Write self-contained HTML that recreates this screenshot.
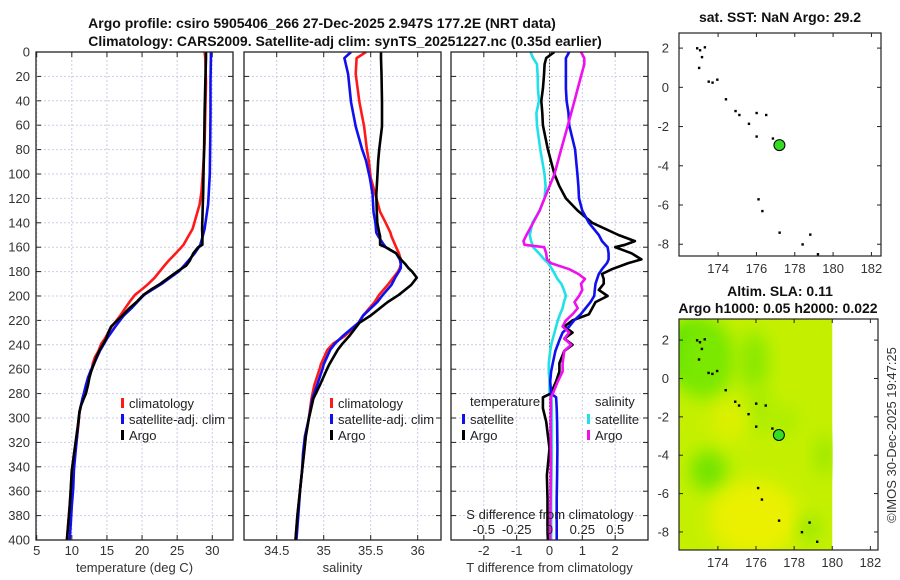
<!DOCTYPE html>
<html><head><meta charset="utf-8">
<style>
html,body{margin:0;padding:0;background:#fff;}
svg{display:block;font-family:"Liberation Sans","DejaVu Sans",sans-serif;}
.tk{font-size:13px;fill:#333;}
.ttl{font-size:14px;font-weight:bold;fill:#111;}
.lg{font-size:13px;fill:#222;}
</style></head>
<body>
<svg id="chart" width="900" height="580" viewBox="0 0 900 580" xmlns="http://www.w3.org/2000/svg">
<defs>
<filter id="blur" x="-50%" y="-50%" width="200%" height="200%"><feGaussianBlur stdDeviation="9"/></filter>
<clipPath id="clipField"><rect x="679" y="319" width="154" height="231"/></clipPath>
<clipPath id="cp1"><rect x="36" y="52" width="197" height="488"/></clipPath>
<clipPath id="cp2"><rect x="244" y="52" width="197" height="488"/></clipPath>
<clipPath id="cp3"><rect x="451" y="52" width="197" height="488"/></clipPath>
</defs>
<text class="ttl" x="322" y="28" text-anchor="middle">Argo profile: csiro 5905406_266 27-Dec-2025 2.947S 177.2E (NRT data)</text>
<text class="ttl" x="345" y="46" text-anchor="middle">Climatology: CARS2009. Satellite-adj clim: synTS_20251227.nc (0.35d earlier)</text>
<g id="g1"></g>
<g id="g2"></g>
<g id="g3"></g>
<g id="gm1"></g>
<g id="gm2"></g>
<text class="tk" x="0" y="0" transform="translate(896,435) rotate(-90)" text-anchor="middle">©IMOS 30-Dec-2025 19:47:25</text>
</svg>
<script>
// depths (dbar)
const depthT = [0,5,25,50,75,100,115,125,137,145,152,158,160,165,171,175,180,185,190,195,199,205,210,216,225,230,235,239,245,250,255,261,267,273,280,284,290,295,305,315,330,343,358,372,386,400];
const argoT  = [29.1,29.1,29.0,28.9,28.85,28.75,28.7,28.65,28.6,28.55,28.6,28.6,28.0,27.3,26.8,26.3,25.0,23.8,22.6,21.2,20.2,19.2,18.2,17.2,15.6,15.2,14.9,14.5,13.9,13.5,13.2,12.8,12.5,12.3,12.0,11.7,11.3,11.1,10.9,10.65,10.3,10.0,9.85,9.7,9.5,9.3];
const satT   = [29.8,29.8,29.75,29.75,29.7,29.65,29.5,29.4,29.1,28.9,28.6,28.3,28.1,27.5,26.6,26.0,25.2,24.0,22.8,21.4,20.3,19.3,18.5,17.4,16.2,15.6,15.0,14.6,14.0,13.6,13.2,12.7,12.3,12.0,11.7,11.5,11.3,11.1,10.9,10.75,10.5,10.3,10.2,10.0,9.85,9.7];
const climT  = [28.9,29.0,29.1,29.0,28.9,28.65,28.45,28.2,27.6,27.2,26.5,25.9,25.6,24.8,23.8,23.2,22.5,21.8,20.9,19.9,19.0,18.2,17.6,16.9,15.7,15.2,14.7,14.2,13.8,13.3,13.0,12.8,12.3,12.1,11.8,11.6,11.3,11.1,10.95,10.75,10.4,10.0,9.85,9.7,9.5,9.3];
const depthS = [0,5,18,41,61,80,89,103,117,131,140,148,151,158,160,165,170,174,177,180,185,188,191,199,205,216,222,233,239,244,256,259,273,284,301,315,329,343,358,380,400];
const argoS  = [35.61,35.61,35.615,35.62,35.62,35.59,35.58,35.57,35.56,35.565,35.57,35.59,35.6,35.6,35.66,35.77,35.82,35.87,35.9,35.94,35.99,35.96,35.93,35.8,35.68,35.5,35.38,35.27,35.2,35.15,35.06,35.04,34.96,34.89,34.84,34.81,34.79,34.77,34.75,34.72,34.7];
const satS   = [35.29,35.22,35.26,35.29,35.34,35.41,35.45,35.49,35.52,35.53,35.55,35.56,35.58,35.64,35.66,35.77,35.81,35.82,35.82,35.8,35.76,35.74,35.72,35.63,35.57,35.42,35.37,35.2,35.12,35.07,35.0,34.99,34.93,34.88,34.84,34.8,34.78,34.77,34.75,34.73,34.71];
const climS  = [35.45,35.35,35.34,35.38,35.43,35.46,35.48,35.5,35.55,35.6,35.66,35.71,35.72,35.76,35.77,35.8,35.82,35.82,35.81,35.79,35.74,35.71,35.68,35.59,35.54,35.42,35.37,35.22,35.1,35.04,34.97,34.96,34.9,34.87,34.84,34.81,34.79,34.77,34.75,34.72,34.7];
// differences from climatology
const depthD = [0,5,10,20,30,40,50,60,80,100,110,120,130,140,150,155,158,160,165,170,173,178,182,186,190,195,200,205,210,215,220,225,230,235,240,245,255,262,270,280,283,292,303,325,347,366,393,400];
const argoDT = [0.15,-0.1,-0.15,-0.17,-0.2,-0.25,-0.22,-0.2,-0.05,0.15,0.3,0.5,0.86,1.3,2.1,2.6,2.3,2.0,2.5,2.8,2.4,1.9,1.6,1.65,1.65,1.5,1.77,1.4,1.3,1.2,0.7,0.45,0.7,0.45,0.7,0.45,0.3,0.3,0.2,0.04,-0.2,-0.2,-0.1,0.0,-0.08,-0.06,-0.06,-0.05];
const satDT  = [0.6,0.5,0.5,0.5,0.5,0.52,0.58,0.6,0.78,0.85,0.88,0.9,1.0,1.2,1.5,1.6,1.7,1.77,1.8,1.8,1.75,1.6,1.5,1.45,1.4,1.38,1.36,1.25,1.1,0.95,0.75,0.6,0.4,0.32,0.25,0.18,0.1,0.05,0.02,0.05,0.2,0.22,0.23,0.24,0.23,0.22,0.22,0.22];
const satDS  = [-0.145,-0.125,-0.095,-0.09,-0.088,-0.08,-0.1,-0.095,-0.07,-0.038,-0.03,-0.038,-0.075,-0.13,-0.15,-0.14,-0.13,-0.125,-0.08,-0.04,-0.01,0.02,0.04,0.06,0.09,0.11,0.125,0.11,0.1,0.08,0.063,0.05,0.038,0.025,0.013,0.005,-0.005,-0.005,0,0,0.015,0.017,0.018,0.018,0.015,0.013,0.013,0.013];
const argoDS = [0.24,0.265,0.265,0.24,0.215,0.19,0.165,0.14,0.088,0.038,0,-0.038,-0.075,-0.125,-0.175,-0.198,-0.19,-0.04,-0.025,-0.02,0.01,0.15,0.22,0.27,0.24,0.25,0.225,0.19,0.215,0.175,0.125,0.1,0.15,0.113,0.165,0.113,0.1,0.1,0.063,0.025,0.01,0.01,0.008,0.01,0.01,0.008,0.005,0.005];
const depthTicks = [0,20,40,60,80,100,120,140,160,180,200,220,240,260,280,300,320,340,360,380,400];
const tTicks = [5,10,15,20,25,30];
const sTicks = [34.5,35,35.5,36];
const dTTicks = [-2,-1,0,1,2];
const dSTicks = [-0.5,-0.25,0,0.25,0.5];
const dSLabels = ['-0.5','-0.25','0','0.25','0.5'];
const lonTicks = [174,176,178,180,182];
const latTicks = [2,0,-2,-4,-6,-8];
const argoLon = 177.2, argoLat = -2.947;
const coastLon = [172.9,173.05,173.15,173.0,173.3,173.5,173.7,173.95,174.4,174.9,175.1,175.6,176.0,176.5,176.0,176.85,176.1,176.3,177.2,178.4,178.8,179.2];
const coastLat = [2.0,1.9,1.55,1.0,2.05,0.3,0.25,0.4,-0.6,-1.2,-1.4,-1.85,-1.3,-1.4,-2.5,-2.6,-5.7,-6.3,-7.4,-8.0,-7.5,-8.5];

const NS = 'http://www.w3.org/2000/svg';
function mk(parent, tag, attrs){const e=document.createElementNS(NS,tag);for(const k in attrs)e.setAttribute(k,attrs[k]);parent.appendChild(e);return e;}
const PT=52, PB=540;
const yD = d => PT + d/400*(PB-PT);
function lin(d0,d1,r0,r1){return v=>r0+(v-d0)/(d1-d0)*(r1-r0);}

function panel(g, x0, x1, xs, xticks, xlabels, showY, xtitle){
  const frame = mk(g,'rect',{x:x0,y:PT,width:x1-x0,height:PB-PT,fill:'#fff',stroke:'none'});
  
  
  depthTicks.forEach(d=>{
    const y=yD(d);
    if(d>0&&d<400){const gl=mk(g,'line',{x1:x0,x2:x1,y1:y,y2:y,stroke:'#c9cde6','stroke-width':1,'stroke-dasharray':'2,2'});
      
      }
    mk(g,'line',{x1:x0,x2:x0+5,y1:y,y2:y,stroke:'#222'});
    mk(g,'line',{x1:x1-5,x2:x1,y1:y,y2:y,stroke:'#222'});
    if(showY){const t=mk(g,'text',{x:x0-6,y:y+4.5,'text-anchor':'end',class:'tk'});t.textContent=d;
      
      }
  });
  xticks.forEach((v,i)=>{
    const x=xs(v);
    const gl=mk(g,'line',{x1:x,x2:x,y1:PT,y2:PB,stroke:'#c9cde6','stroke-width':1,'stroke-dasharray':'2,2'});
    
    
    mk(g,'line',{x1:x,x2:x,y1:PB-5,y2:PB,stroke:'#222'});
    mk(g,'line',{x1:x,x2:x,y1:PT,y2:PT+5,stroke:'#222'});
    const t=mk(g,'text',{x:x,y:PB+15,'text-anchor':'middle',class:'tk'});t.textContent=xlabels[i];
    
    
  });
  const tt=mk(g,'text',{x:(x0+x1)/2,y:PB+32,'text-anchor':'middle',class:'tk'});tt.textContent=xtitle;
  
  
}
function frameBox(g,x0,x1){const b=mk(g,'rect',{x:x0,y:PT,width:x1-x0,height:PB-PT,fill:'none',stroke:'#222','stroke-width':1.3});
  
  }
function series(g, depths, vals, xs, color, name, clip){
  const pts = vals.map((v,i)=>xs(v).toFixed(1)+','+yD(depths[i]).toFixed(1)).join(' ');
  const p=mk(g,'polyline',{points:pts,fill:'none',stroke:color,'stroke-width':2.6,'stroke-linejoin':'round','clip-path':'url(#'+clip+')'});
  
  
}
function legend(g,x,y,items){
  items.forEach((it,i)=>{
    const yy=y+i*16;
    mk(g,'rect',{x:x,y:yy-9,width:3,height:10,fill:it[1]});
    const t=mk(g,'text',{x:x+8,y:yy+1,class:'lg'});t.textContent=it[0];
    
    
  });
}

// Panel 1
const g1=document.getElementById('g1');
const xT=lin(5,32.95,36.7,233);
panel(g1,36,233,xT,tTicks,tTicks.map(String),true,'temperature (deg C)');
series(g1,depthT,climT,xT,'#ff1a1a','climatology-temperature-line','cp1');
series(g1,depthT,satT,xT,'#1010ee','satellite-temperature-line','cp1');
series(g1,depthT,argoT,xT,'#000','argo-temperature-line','cp1');
frameBox(g1,36,233);
legend(g1,121,407,[['climatology','#ff1a1a'],['satellite-adj. clim','#1010ee'],['Argo','#000']]);

// Panel 2
const g2=document.getElementById('g2');
const xS=lin(34.152,36.248,244,441);
panel(g2,244,441,xS,sTicks,['34.5','35','35.5','36'],false,'salinity');
series(g2,depthS,climS,xS,'#ff1a1a','climatology-salinity-line','cp2');
series(g2,depthS,satS,xS,'#1010ee','satellite-salinity-line','cp2');
series(g2,depthS,argoS,xS,'#000','argo-salinity-line','cp2');
frameBox(g2,244,441);
legend(g2,330,407,[['climatology','#ff1a1a'],['satellite-adj. clim','#1010ee'],['Argo','#000']]);
mk(g2,'rect',{x:233.5,y:395,width:10,height:50,fill:'#fff'});
mk(g2,'line',{x1:233,x2:233,y1:395,y2:445,stroke:'#222','stroke-width':1.3});

// Panel 3
const g3=document.getElementById('g3');
const xDT=lin(-3,3,451,648);
const xDS=v=>xDT(v*4);
panel(g3,451,648,xDT,dTTicks,dTTicks.map(String),false,'T difference from climatology');
const zl=mk(g3,'line',{x1:xDT(0),x2:xDT(0),y1:PT,y2:PB,stroke:'#555533','stroke-width':1,'stroke-dasharray':'1.5,2'});


series(g3,depthD,satDS,xDS,'#22e0e8','satellite-salinity-diff-line','cp3');
series(g3,depthD,argoDT,xDT,'#000','argo-temperature-diff-line','cp3');
series(g3,depthD,satDT,xDT,'#1010ee','satellite-temperature-diff-line','cp3');
series(g3,depthD,argoDS,xDS,'#ee10ee','argo-salinity-diff-line','cp3');
frameBox(g3,451,648);
const lt=mk(g3,'text',{x:470,y:406,class:'lg'});lt.textContent='temperature';


const ls=mk(g3,'text',{x:595,y:406,class:'lg'});ls.textContent='salinity';


legend(g3,462,423,[['satellite','#1010ee'],['Argo','#000']]);
legend(g3,587,423,[['satellite','#22e0e8'],['Argo','#ee10ee']]);
const st=mk(g3,'text',{x:550,y:519,'text-anchor':'middle',class:'lg'});st.textContent='S difference from climatology';


dSTicks.forEach((v,i)=>{
  const t=mk(g3,'text',{x:xDS(v),y:534,'text-anchor':'middle',class:'lg'});t.textContent=dSLabels[i];
  
  
});

// Maps
function mapPanel(g, x0,x1,y0,y1, lon0,lon1, lat0,lat1, field){
  const mx=lin(lon0,lon1,x0,x1), my=lin(lat0,lat1,y0,y1);
  if(field){
    const base=mk(g,'rect',{x:x0,y:y0,width:mx(180)-x0,height:y1-y0,fill:'#c4f000'});
    
    
    const fg=mk(g,'g',{'clip-path':'url(#clipField)'});
    const blobs=[[172.6,1.4,25,30,'#4ee000'],[173.3,1.0,30,40,'#7ae800'],[175.9,0.9,14,30,'#86e800'],[173.5,-4.8,18,20,'#70e400'],[176.2,-1.6,12,25,'#a6ec00'],[175.9,-7.3,45,38,'#eaf000'],[174.6,-2.2,18,22,'#dcf000'],[179.6,-4.0,10,20,'#9ae800'],[178.8,-7.8,10,12,'#8ee600'],[177.5,-2.2,12,14,'#a8ec00']];
    blobs.forEach(b=>{mk(fg,'ellipse',{cx:mx(b[0]),cy:my(b[1]),rx:b[2],ry:b[3],fill:b[4],filter:'url(#blur)'});});
  }
  lonTicks.forEach(v=>{const x=mx(v);
    mk(g,'line',{x1:x,x2:x,y1:y1-4,y2:y1,stroke:'#222'});mk(g,'line',{x1:x,x2:x,y1:y0,y2:y0+4,stroke:'#222'});
    const t=mk(g,'text',{x:x,y:y1+17,'text-anchor':'middle',class:'tk'});t.textContent=v;
    
    });
  latTicks.forEach(v=>{const y=my(v);
    mk(g,'line',{x1:x0,x2:x0+4,y1:y,y2:y,stroke:'#222'});mk(g,'line',{x1:x1-4,x2:x1,y1:y,y2:y,stroke:'#222'});
    const t=mk(g,'text',{x:x0-10,y:y+4.5,'text-anchor':'end',class:'tk'});t.textContent=v;
    
    });
  coastLon.forEach((lo,i)=>{const c=mk(g,'rect',{x:mx(lo)-1,y:my(coastLat[i])-1,width:2.4,height:2.4,fill:'#000'});
    
    });
  const m=mk(g,'circle',{cx:mx(argoLon),cy:my(argoLat),r:5.5,fill:'#33dd22',stroke:'#000','stroke-width':1});
  
  
  const b=mk(g,'rect',{x:x0,y:y0,width:x1-x0,height:y1-y0,fill:'none',stroke:'#222','stroke-width':1.2});
  
  
}
const gm1=document.getElementById('gm1');
mapPanel(gm1,679,881,33,256,171.96,182.5,2.77,-8.6,false);
const mt1=mk(gm1,'text',{x:780,y:22,'text-anchor':'middle',class:'ttl'});mt1.textContent='sat. SST: NaN Argo: 29.2';


const gm2=document.getElementById('gm2');
mapPanel(gm2,679,878,319,550,171.96,182.4,3.1,-8.94,true);
const mt2=mk(gm2,'text',{x:780,y:296,'text-anchor':'middle',class:'ttl'});mt2.textContent='Altim. SLA: 0.11';


const mt3=mk(gm2,'text',{x:778,y:313,'text-anchor':'middle',class:'ttl'});mt3.textContent='Argo h1000: 0.05 h2000: 0.022';


</script>
</body></html>
